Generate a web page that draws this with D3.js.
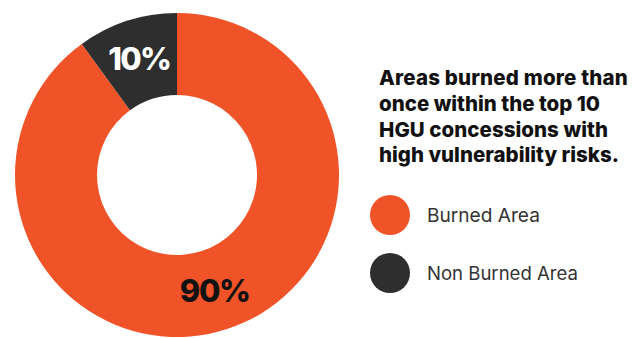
<!DOCTYPE html>
<html>
<head>
<meta charset="utf-8">
<script src="https://cdn.jsdelivr.net/npm/d3@7"></script>
<style>
  html, body { margin: 0; padding: 0; background: #fff; }
  svg { display: block; }
  text { font-family: "Inter", "Noto Sans", sans-serif; }
</style>
</head>
<body>
<svg id="chart" width="632" height="338"></svg>
<script>
// Share of repeatedly burned land inside the top 10 HGU concessions
const categories = ["Burned Area", "Non Burned Area"];
const values = [90, 10];
const valueLabels = ["90%", "10%"];
const titleLines = [
  "Areas burned more than",
  "once within the top 10",
  "HGU concessions with",
  "high vulnerability risks."
];

const colors = d3.scaleOrdinal()
  .domain(categories)
  .range(["#F05327", "#2E2E2E"]);

const svg = d3.select("#chart");

// Donut geometry
const cx = 177, cy = 175, outerR = 162, innerR = 80;

const pie = d3.pie().sort(null).value(d => d.value)
  .startAngle(0).endAngle(2 * Math.PI);
const slices = pie(categories.map((c, i) => ({ name: c, value: values[i], label: valueLabels[i] })));

const arc = d3.arc().innerRadius(innerR).outerRadius(outerR);
const labelArc = d3.arc().innerRadius(122).outerRadius(122);

const g = svg.append("g").attr("transform", `translate(${cx},${cy})`);

g.selectAll("path.slice")
  .data(slices)
  .join("path")
  .attr("class", "slice")
  .attr("d", arc)
  .attr("fill", d => colors(d.data.name));

// Tighten or loosen tracking so a text node spans the given width
function trackTo(node, target) {
  const s = d3.select(node);
  s.attr("letter-spacing", 0);
  const w = node.getComputedTextLength();
  const n = node.textContent.length;
  s.attr("letter-spacing", ((target - w) / n).toFixed(3));
}
// Scale font size so a text node spans the given width
function sizeTo(node, target) {
  const s = d3.select(node);
  const fs = parseFloat(s.attr("font-size"));
  const w = node.getComputedTextLength();
  s.attr("font-size", (fs * target / w).toFixed(2));
}

const pctLabels = g.selectAll("text.pct")
  .data(slices)
  .join("text")
  .attr("class", "pct")
  .attr("transform", d => `translate(${labelArc.centroid(d)})`)
  .attr("text-anchor", "middle")
  .attr("dy", "0.36em")
  .attr("font-size", 31)
  .attr("font-weight", 800)
  .attr("fill", d => d.data.name === "Burned Area" ? "#121212" : "#ffffff")
  .text(d => d.data.label);
pctLabels.each(function (d) {
  trackTo(this, d.data.name === "Burned Area" ? 70 : 62);
});

// Title block
const titleWidths = [249, 221, 229, 240];
const title = svg.append("g");
title.selectAll("text")
  .data(titleLines)
  .join("text")
  .attr("x", 379)
  .attr("y", (d, i) => 85 + i * 25.8)
  .attr("font-size", 20.5)
  .attr("font-weight", 800)
  .attr("fill", "#111")
  .text(d => d)
  .each(function (d, i) { trackTo(this, titleWidths[i]); });

// Legend
const legend = svg.append("g").attr("transform", "translate(390,215)");
const items = legend.selectAll("g.item")
  .data(categories)
  .join("g")
  .attr("class", "item")
  .attr("transform", (d, i) => `translate(0,${i * 58})`);
items.append("circle")
  .attr("r", 20)
  .attr("fill", d => colors(d));
items.append("text")
  .attr("x", 37)
  .attr("y", 0)
  .attr("dy", "0.36em")
  .attr("font-size", 17)
  .attr("font-weight", 400)
  .attr("fill", "#333")
  .text(d => d)
  .each(function (d, i) { sizeTo(this, i === 0 ? 113 : 151); });
</script>
</body>
</html>
